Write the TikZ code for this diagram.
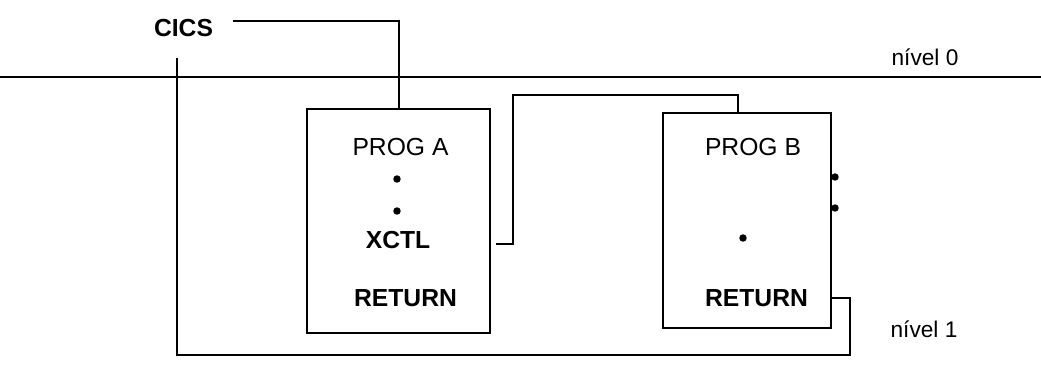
\documentclass[tikz,border=0pt]{standalone}
\usepackage{fontspec}
\setmainfont{Liberation Sans}
\usetikzlibrary{calc}

\begin{document}
\begin{tikzpicture}[
    x=0.75pt, y=-0.75pt,
    prog/.style={rectangle, draw=black, line width=1.5pt, inner sep=0pt},
    wire/.style={draw=black, line width=1.5pt},
    txt/.style={font=\fontsize{18.5}{22}\selectfont, inner sep=0pt},
    cmd/.style={txt, font=\fontsize{18.5}{22}\selectfont\bfseries},
    lbl/.style={font=\fontsize{17}{20}\selectfont, inner sep=0pt},
    dot/.style={circle, fill=black, inner sep=0pt, minimum size=5.6pt}
]
\useasboundingbox (0,0) rectangle (1041,365);

% level line
\draw[line width=1pt] (0,77) -- (1041,77);
\node[lbl] (nivel0) at (925,57) {nível 0};
\node[lbl] (nivel1) at (924,329) {nível 1};

\node[cmd] (cics) at (183.5,28) {CICS};

% programs
\node[prog, minimum width=183*0.75pt, minimum height=224*0.75pt] (progA) at (398.5,221) {};
\node[prog, minimum width=168*0.75pt, minimum height=215*0.75pt] (progB) at (747,220.5) {};

\node[txt] (nameA) at (400.5,147) {PROG A};
\node[dot] (dotA1) at (397,179) {};
\node[dot] (dotA2) at (397,211) {};
\node[cmd] (xctl) at (398,240) {XCTL};
\node[cmd] (retA) at (405.5,298) {RETURN};

\node[txt] (nameB) at (753,147) {PROG B};
\node[dot] (dotB1) at (835,177) {};
\node[dot] (dotB2) at (835,208) {};
\node[dot] (dotB3) at (743,238) {};
\node[cmd] (retB) at (756.5,298) {RETURN};

% connectors
\coordinate (jump) at (513,95);
\coordinate (loop) at (850,355);
\coordinate (back) at (177,58);

\draw[wire] ($(cics.east)+(20,-7)$) -| (progA.north);
\draw[wire] ($(progA.east |- xctl)+(5,4)$) -| (jump) -| ($(progB.north)+(-9,0)$);
\draw[wire] (progB.east |- retB) -| (loop) -| (back);
\end{tikzpicture}
\end{document}
